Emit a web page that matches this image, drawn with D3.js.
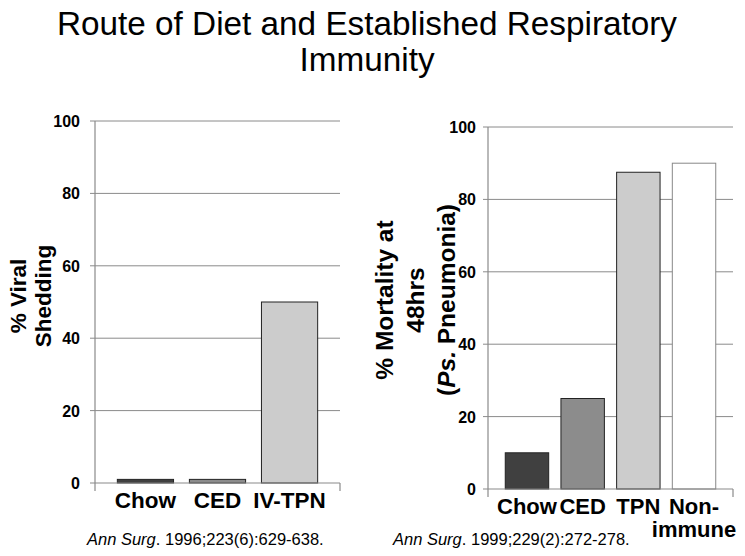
<!DOCTYPE html>
<html>
<head>
<meta charset="utf-8">
<script src="https://cdn.jsdelivr.net/npm/d3@7"></script>
<style>
  html, body { margin: 0; padding: 0; background: #fff; }
  svg { display: block; font-family: Arial, "Liberation Sans", sans-serif; }
</style>
</head>
<body>
<svg id="chart" width="745" height="556"></svg>
<script>
// ---- data ----
const titleLines = ["Route of Diet and Established Respiratory", "Immunity"];

const leftCategories = ["Chow", "CED", "IV-TPN"];
const leftValues = [1, 1, 50];
const leftColors = ["#404040", "#8c8c8c", "#cccccc"];

const rightCategories = ["Chow", "CED", "TPN", "Non-immune"];
const rightLabelLines = [["Chow"], ["CED"], ["TPN"], ["Non-", "immune"]];
const rightValues = [10, 25, 87.5, 90];
const rightColors = ["#404040", "#8c8c8c", "#cccccc", "#ffffff"];
const rightStrokes = ["#222", "#222", "#222", "#888"];

const yTicks = [0, 20, 40, 60, 80, 100];

const leftCitation = { italic: "Ann Surg", rest: ". 1996;223(6):629-638." };
const rightCitation = { italic: "Ann Surg", rest: ". 1999;229(2):272-278." };

// ---- drawing ----
const svg = d3.select("#chart");

svg.append("g").selectAll("text").data(titleLines).join("text")
  .attr("x", 367).attr("y", (d, i) => 35 + i * 36)
  .attr("text-anchor", "middle")
  .attr("font-size", 33.3).attr("fill", "#000")
  .text(d => d);

function panel(opts) {
  const g = svg.append("g");
  const x = d3.scaleBand().domain(opts.categories)
    .range([opts.x0, opts.x1]).paddingInner(0.22).paddingOuter(0.31);
  const y = d3.scaleLinear().domain([0, 100]).range([opts.y0, opts.y1]);

  // gridlines
  g.append("g").selectAll("line").data(yTicks.filter(t => t > 0)).join("line")
    .attr("x1", opts.x0 - 5).attr("x2", opts.x1)
    .attr("y1", d => y(d)).attr("y2", d => y(d))
    .attr("stroke", "#8a8a8a").attr("stroke-width", 1);

  // y axis line (extends below baseline)
  g.append("line").attr("x1", opts.x0).attr("x2", opts.x0)
    .attr("y1", y(100)).attr("y2", y(0) + 8)
    .attr("stroke", "#8a8a8a").attr("stroke-width", 1.2);

  // bars
  g.append("g").selectAll("rect").data(opts.values).join("rect")
    .attr("x", (d, i) => x(opts.categories[i]))
    .attr("width", x.bandwidth())
    .attr("y", d => y(d))
    .attr("height", d => y(0) - y(d))
    .attr("fill", (d, i) => opts.colors[i])
    .attr("stroke", (d, i) => opts.strokes ? opts.strokes[i] : "#222")
    .attr("stroke-width", 1);

  // x axis line
  g.append("line").attr("x1", opts.x0 - 5).attr("x2", opts.x1)
    .attr("y1", y(0)).attr("y2", y(0))
    .attr("stroke", "#8a8a8a").attr("stroke-width", 1.2);
  g.append("line").attr("x1", opts.x1).attr("x2", opts.x1)
    .attr("y1", y(0)).attr("y2", y(0) + 8)
    .attr("stroke", "#8a8a8a").attr("stroke-width", 1.2);

  // y tick labels
  g.append("g").selectAll("text").data(yTicks).join("text")
    .attr("x", opts.x0 - opts.tickGap).attr("y", d => y(d) + 6)
    .attr("text-anchor", "end").attr("font-size", 16).attr("font-weight", "bold")
    .text(d => d);

  // x labels
  const xl = g.append("g").selectAll("text").data(opts.labelLines).join("text")
    .attr("text-anchor", "middle").attr("font-size", opts.xFont).attr("font-weight", "bold");
  xl.each(function(lines, i) {
    const cx = x(opts.categories[i]) + x.bandwidth() / 2;
    d3.select(this).selectAll("tspan").data(lines).join("tspan")
      .attr("x", cx).attr("y", (d, j) => opts.xLabelY + j * 23).text(d => d);
  });

  // y axis title
  const yt = g.append("g").selectAll("text").data(opts.yTitle).join("text")
    .attr("transform", (d, i) => `translate(${opts.yTitleX + i * opts.yTitleGap},${opts.yTitleCy}) rotate(-90)`)
    .attr("text-anchor", "middle").attr("font-size", opts.yTitleFont).attr("font-weight", "bold");
  yt.each(function(parts) {
    d3.select(this).selectAll("tspan").data(parts).join("tspan")
      .attr("font-style", d => d.i ? "italic" : null).text(d => d.t);
  });

  // citation
  const c = g.append("text").attr("x", opts.citeX).attr("y", 545).attr("font-size", 16.5);
  c.append("tspan").attr("font-style", "italic").text(opts.cite.italic);
  c.append("tspan").text(opts.cite.rest);
}

panel({
  categories: leftCategories, values: leftValues, colors: leftColors,
  labelLines: leftCategories.map(d => [d]),
  x0: 95, x1: 340, y0: 483, y1: 121, xLabelY: 508, xFont: 22.5, tickGap: 15,
  yTitle: [[{t: "% Viral"}], [{t: "Shedding"}]],
  yTitleX: 26, yTitleGap: 25, yTitleCy: 296, yTitleFont: 22.5,
  citeX: 87, cite: leftCitation
});

panel({
  categories: rightCategories, values: rightValues, colors: rightColors, strokes: rightStrokes,
  labelLines: rightLabelLines,
  x0: 488, x1: 733, y0: 489, y1: 127, xLabelY: 514, xFont: 22, tickGap: 12,
  yTitle: [[{t: "% Mortality at"}], [{t: "48hrs"}], [{t: "("}, {t: "Ps.", i: true}, {t: " Pneumonia)"}]],
  yTitleX: 393, yTitleGap: 31, yTitleCy: 300, yTitleFont: 24.5,
  citeX: 393, cite: rightCitation
});
</script>
</body>
</html>
